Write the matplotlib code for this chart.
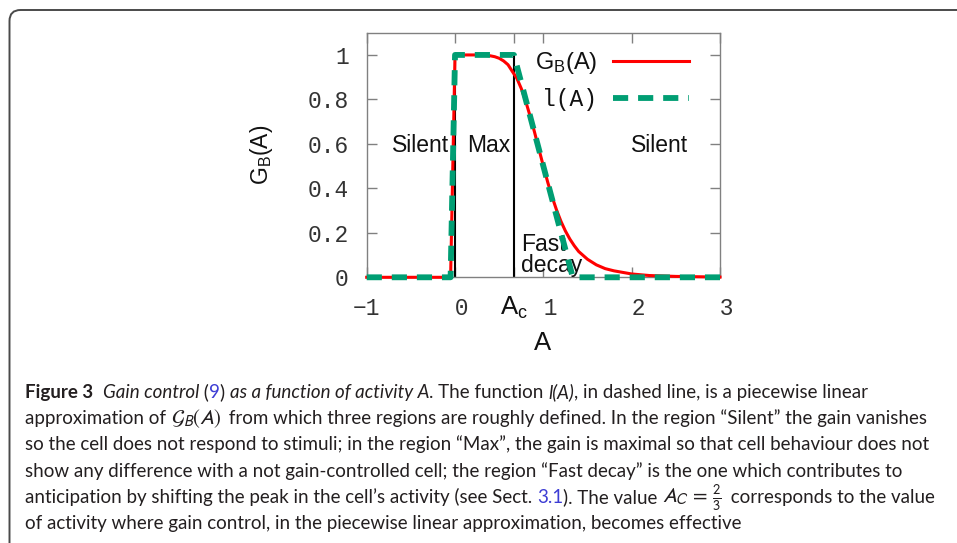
import matplotlib
matplotlib.use('Agg')
import matplotlib.pyplot as plt
from matplotlib.patches import FancyBboxPatch
from matplotlib.transforms import IdentityTransform
import numpy as np

W, H, DPI = 957, 543, 100

# ---------------- data ----------------
gb_A = [-1.0, -0.05, 0.0, 0.1, 0.2, 0.3, 0.4, 0.45, 0.5, 0.55, 0.6, 0.65, 0.7,
        0.75, 0.8, 0.85, 0.9, 0.95, 1.0, 1.05, 1.1, 1.15, 1.2, 1.25, 1.3,
        1.35, 1.4, 1.5, 1.6, 1.7, 1.8, 2.0, 2.2, 2.5, 3.0]
gb_val = [0.0, 0.0, 1.0, 1.0, 1.0, 1.0, 0.996, 0.992, 0.985, 0.973, 0.956,
          0.925, 0.895, 0.849, 0.792, 0.725, 0.653, 0.576, 0.5, 0.427, 0.361,
          0.302, 0.251, 0.208, 0.172, 0.142, 0.116, 0.081, 0.056, 0.039,
          0.029, 0.015, 0.008, 0.004, 0.001]
l_A = [-1.0, -0.05, 0.0, 0.667, 1.333, 3.0]
l_val = [0.0, 0.0, 1.0, 1.0, 0.0, 0.0]
separators_A = [0.0, 0.667]
xtick_pos = [-1, 0, 0.667, 1, 2, 3]
xtick_labels = ['\u22121', ' 0', '', ' 1', ' 2', ' 3']
ytick_pos = [0, 0.2, 0.4, 0.6, 0.8, 1.0]
ytick_labels = ['0', '0.2', '0.4', '0.6', '0.8', '1']
legend_labels = ['G$_\\mathrm{B}$(A)', 'l(A)']
region_labels = ['Silent', 'Max', 'Silent', 'Fast\ndecay']

plt.rcParams['mathtext.fontset'] = 'custom'
plt.rcParams['mathtext.rm'] = 'Liberation Sans'
plt.rcParams['mathtext.it'] = 'Liberation Sans:italic'
plt.rcParams['mathtext.bf'] = 'Liberation Sans:bold'
plt.rcParams['font.family'] = ['Liberation Sans', 'DejaVu Sans']

fig = plt.figure(figsize=(W / DPI, H / DPI), dpi=DPI)
fig.patch.set_facecolor('white')

# caption box (rounded, extends past right/bottom edges)
box = FancyBboxPatch((9.5, -60), 1100, 533 + 60, boxstyle='round,pad=0,rounding_size=11',
                     transform=IdentityTransform(), facecolor='none',
                     edgecolor='#4a4a4a', lw=1.4)
fig.add_artist(box)

L, R, T, B = 366.7, 720.0, 32.7, 277.3
ax = fig.add_axes([L / W, 1 - B / H, (R - L) / W, (B - T) / H])
ax.set_xlim(-1, 3)
ax.set_ylim(0, 1.1)

ax.vlines(separators_A, 0, 1, colors='black', lw=1.5, zorder=2)
red, = ax.plot(gb_A, gb_val, color='#ff0000', lw=2.2, zorder=3, clip_on=False,
               label=legend_labels[0])
green, = ax.plot(l_A, l_val, color='#009e73', lw=4.2, ls=(0, (2.6, 1.7)),
                 zorder=4, clip_on=False, label=legend_labels[1])

for s in ax.spines.values():
    s.set_color('#808080')
    s.set_linewidth(1.0)

ax.set_xticks(xtick_pos)
ax.set_xticklabels(xtick_labels)
ax.set_yticks(ytick_pos)
ax.set_yticklabels(ytick_labels)
ax.tick_params(direction='in', length=7, width=1, color='#808080',
               top=True, right=True, labelsize=16.5,
               labelfontfamily='Liberation Mono', labelcolor='#333333')
ax.tick_params(axis='x', pad=14)
ax.tick_params(axis='y', pad=13)

# A_c label under its tick
ax.text(0.667, -0.07, 'A$_\\mathrm{c}$', transform=ax.get_xaxis_transform(),
        ha='center', va='top', fontsize=18.5, family='Liberation Sans',
        math_fontfamily='custom', color='#111111')

ax.set_xlabel('A', fontsize=18.5, color='#111111')
ax.xaxis.label.set_va('center')
ax.xaxis.set_label_coords(0.499, -0.269)
ax.set_ylabel('G$_\\mathrm{B}$(A)', fontsize=16.5, color='#111111')
ax.yaxis.label.set_va('center')
ax.yaxis.set_label_coords(-0.297, 0.5)

# region labels
tkw = dict(fontsize=16.5, color='#111111', family='Liberation Sans')
ax.text(-0.39, 0.593, region_labels[0], ha='center', va='center', **tkw)
ax.text(0.385, 0.593, region_labels[1], ha='center', va='center', **tkw)
ax.text(2.31, 0.593, region_labels[2], ha='center', va='center', **tkw)
ax.text(0.75, 0.1, region_labels[3], ha='left', va='center', linespacing=0.92, **tkw)

leg = ax.legend(handles=[red, green], loc='upper right',
                bbox_to_anchor=((689 - L) / (R - L), (B - 50) / (B - T)),
                frameon=False, markerfirst=False, fontsize=17,
                handlelength=3.2, handletextpad=0.7, labelspacing=0.5,
                borderpad=0, borderaxespad=0)
leg.get_texts()[1].set_fontfamily('Liberation Mono')
leg.get_texts()[1].set_fontsize(16.5)
for t in leg.get_texts():
    t.set_color('#111111')

# ---------------- caption ----------------
CAP = 'Lato'
TXT = '#231f20'
BLUE = '#3d3dd4'
N = dict(family=CAP)
I = dict(family=CAP, style='italic')
Bd = dict(family=CAP, weight='bold')
M = dict(family=CAP, math_fontfamily='stixsans')

caption_lines = [
    [('Figure 3', Bd, TXT), ('  ', N, TXT), ('Gain control', I, TXT), (' (', N, TXT),
     ('9', N, BLUE), (') ', N, TXT), ('as a function of activity A', I, TXT),
     ('. The function ', N, TXT), ('l(A)', I, TXT),
     (', in dashed line, is a piecewise linear', N, TXT)],
    [('approximation of ', N, TXT), (r'$\mathcal{G}_B(A)$', M, TXT),
     (' from which three regions are roughly defined. In the region \u201cSilent\u201d the gain vanishes', N, TXT)],
    [('so the cell does not respond to stimuli; in the region \u201cMax\u201d, the gain is maximal so that cell behaviour does not', N, TXT)],
    [('show any difference with a not gain-controlled cell; the region \u201cFast decay\u201d is the one which contributes to', N, TXT)],
    [('anticipation by shifting the peak in the cell\u2019s activity (see Sect. ', N, TXT),
     ('3.1', N, BLUE), ('). The value ', N, TXT), (r'$A_C\,=\,\frac{2}{3}$', M, TXT),
     (' corresponds to the value', N, TXT)],
    [('of activity where gain control, in the piecewise linear approximation, becomes effective', N, TXT)],
]
line_end_px = [870, 944, 951, 868, 937, 742]
X0 = 25.0
BASE0 = 398.0
STEP = 26.2
MATH_SCALE = 1.12
MATH_PAD = 3.0

renderer = fig.canvas.get_renderer()


def measure(s, props, size):
    t = fig.text(0, 0, '|' + s + '|', fontsize=size, **props)
    w1 = t.get_window_extent(renderer).width
    t.set_text('||')
    w0 = t.get_window_extent(renderer).width
    t.remove()
    return w1 - w0


def piece_size(s, base):
    return base * MATH_SCALE if s.startswith('$') else base


def piece_width(s, p, base):
    w = measure(s, p, piece_size(s, base))
    return w + (MATH_PAD if s.startswith('$') else 0.0)


ref_size = 10.0
ratios = []
for pieces, xe in zip(caption_lines, line_end_px):
    wtot = sum(piece_width(s, p, ref_size) for s, p, c in pieces)
    ratios.append((xe - X0) / wtot)
cap_size = ref_size * float(np.median(ratios))

for i, pieces in enumerate(caption_lines):
    x = X0
    y = H - (BASE0 + i * STEP)
    for s, p, c in pieces:
        fig.text(x / W, y / H, s, fontsize=piece_size(s, cap_size), color=c,
                 ha='left', va='baseline', **p)
        x += piece_width(s, p, cap_size)

fig.savefig('out.png', dpi=DPI)
